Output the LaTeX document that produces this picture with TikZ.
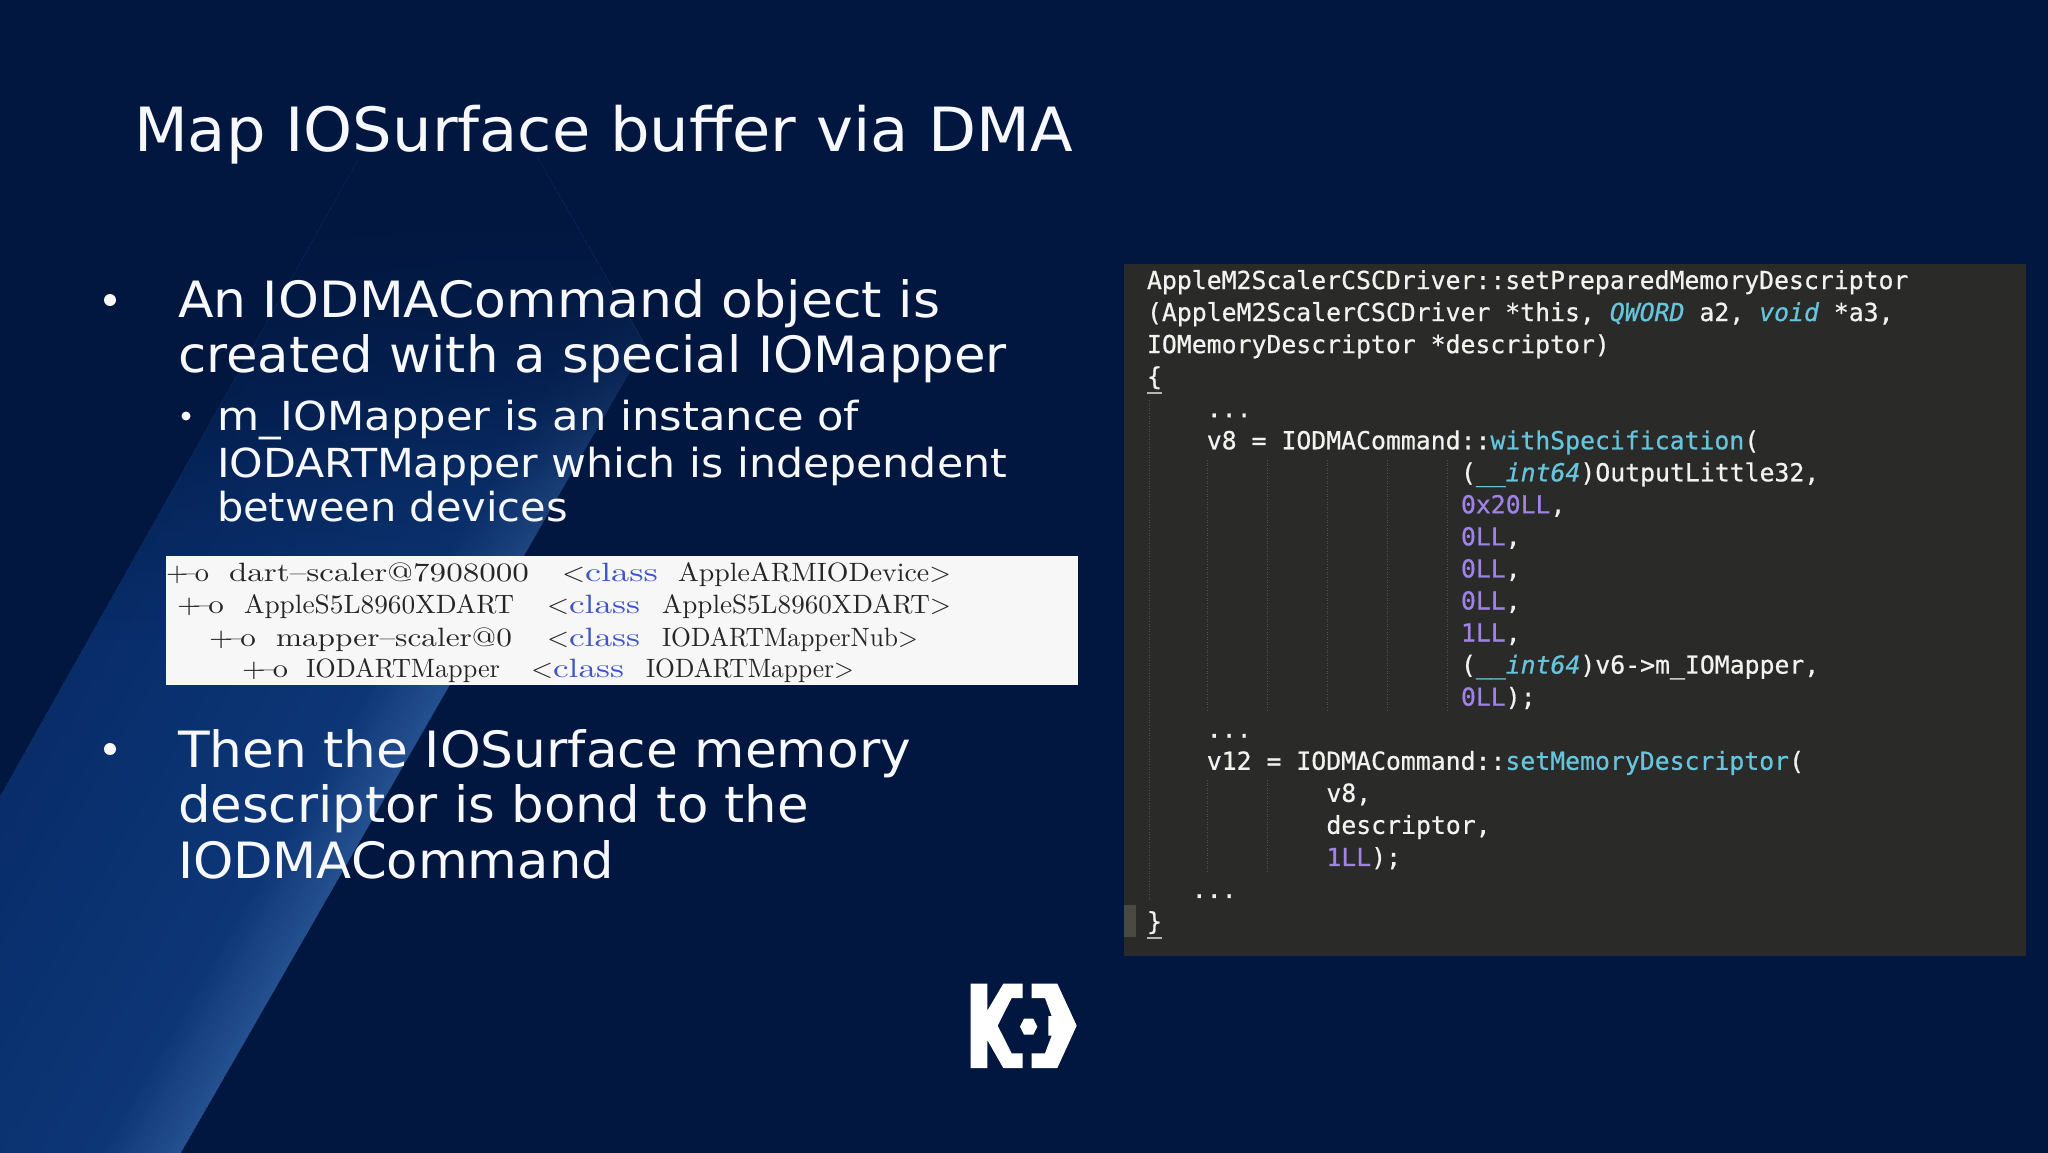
\documentclass[tikz,border=0pt]{standalone}
\usepackage{fontspec}
\usepackage{graphicx}
\usetikzlibrary{fadings}
\newfontfamily\slidefont{DejaVu Sans}
\newfontfamily\codefont[FakeBold=0.7]{DejaVu Sans Mono}
\newfontfamily\tabfont{lmroman10-regular}[Extension=.otf]
\definecolor{bgc}{HTML}{02173F}
\definecolor{bandedge}{HTML}{25508F}
\definecolor{bandmid}{HTML}{0D3677}
\definecolor{bandfar}{HTML}{082C68}
\definecolor{panelc}{HTML}{2A2A28}
\definecolor{codew}{HTML}{F2F2EE}
\definecolor{codec}{HTML}{66C4DC}
\definecolor{codep}{HTML}{9F83E6}
\definecolor{guide}{HTML}{55554F}
\definecolor{slidew}{HTML}{F6F8FB}
\definecolor{tablec}{HTML}{F7F7F8}
\definecolor{tabt}{HTML}{262626}
\definecolor{tabb}{HTML}{3E55CC}
\definecolor{gutter}{HTML}{4A4A40}
\tikzfading[name=fadetop, top color=transparent!0, bottom color=transparent!100]
\newsavebox\fitbox
\newcommand{\fitw}[2]{\sbox\fitbox{#2}\pgfmathsetmacro\fitx{#1/\the\wd\fitbox}\scalebox{\fitx}[1]{\usebox\fitbox}}
\newcount\ncount
\tikzset{
  tl/.style={anchor=base west,inner sep=0pt,outer sep=0pt},
  titletext/.style={tl,text=slidew,font=\slidefont\fontsize{61}{61}\selectfont},
  bodytext/.style={tl,text=slidew,font=\slidefont\fontsize{50}{50}\selectfont},
  subtext/.style={tl,text=slidew,font=\slidefont\fontsize{40}{40}\selectfont},
  tabtext/.style={tl,text=tabt,font=\tabfont\fontsize{26.5}{26.5}\selectfont},
  codetext/.style={tl,text=codew,font=\codefont\fontsize{24.8}{24.8}\selectfont},
  guideline/.style={draw=guide,line width=0.6pt,dotted},
}
% fitted slide text: style, x, baseline, width, text
\newcommand{\ft}[5]{\global\advance\ncount by 1 \node[#1] (n\the\ncount) at (#2,#3) {\fitw{#4}{#5}};}
% code line: column, line, text
\newcommand{\cl}[3]{\global\advance\ncount by 1 \pgfmathsetmacro\cx{1147+14.95*#1}\pgfmathsetmacro\cy{289+32.05*#2}\node[codetext] (n\the\ncount) at (\cx,\cy) {#3};}
\newcommand{\kc}[1]{\textcolor{codec}{#1}}
\newcommand{\ki}[1]{\textcolor{codec}{\itshape #1}}
\newcommand{\kp}[1]{\textcolor{codep}{#1}}
\begin{document}
\begin{tikzpicture}[x=1pt,y=-1pt]
\useasboundingbox (0,0) rectangle (2048,1152);
\fill[bgc] (-6,-6) rectangle (2054,1158);
% diagonal band
\begin{scope}
\clip (-6,808) -- (360,157) -- (537,157) -- (645,345) -- (178,1158) -- (-6,1158) -- cycle;
\foreach \s in {0,...,20}{
  \pgfmathsetmacro\d{\s*4}
  \pgfmathsetmacro\p{100-\s*5}
  \fill[bandedge!\p!bandmid] (178-\d,1158) -- (791-\d,100) -- (-100,100) -- (-100,1158) -- cycle;
}
\foreach \s in {1,...,16}{
  \pgfmathsetmacro\d{80+\s*20}
  \pgfmathsetmacro\p{100-\s*6.25}
  \fill[bandmid!\p!bandfar] (178-\d,1158) -- (791-\d,100) -- (-100,100) -- (-100,1158) -- cycle;
}
\fill[bgc,path fading=fadetop] (-10,150) rectangle (700,640);
\fill[bgc,path fading=fadetop] (-10,150) rectangle (700,480);
\end{scope}
% title and text
\ft{titletext}{134}{151}{939}{Map IOSurface buffer via DMA}
\fill[slidew] (110,300) circle (6);
\ft{bodytext}{178}{317}{762}{An IODMACommand object is}
\ft{bodytext}{178}{372}{829}{created with a special IOMapper}
\fill[slidew] (186,416) circle (4.5);
\ft{subtext}{217}{430}{642}{m\_IOMapper is an instance of}
\ft{subtext}{217}{477}{790}{IODARTMapper which is independent}
\ft{subtext}{217}{521}{351}{between devices}
\fill[slidew] (110,749) circle (6);
\ft{bodytext}{178}{767}{733}{Then the IOSurface memory}
\ft{bodytext}{178}{822}{631}{descriptor is bond to the}
\ft{bodytext}{178}{878}{436}{IODMACommand}
% table
\fill[tablec] (166,556) rectangle (1078,685);
\begin{scope}
\clip (166,556) rectangle (1078,685);
\ft{tabtext}{166}{581}{43}{+\kern-6pt–\kern-1pt o}
\ft{tabtext}{229}{581}{300}{dart–scaler@7908000}
\ft{tabtext}{562}{581}{23}{<}
\ft{tabtext,text=tabb}{585}{581}{73}{class}
\ft{tabtext}{678}{581}{273}{AppleARMIODevice>}
\ft{tabtext}{177}{613}{47}{+\kern-6pt–\kern-1pt o}
\ft{tabtext}{244}{613}{270}{AppleS5L8960XDART}
\ft{tabtext}{547}{613}{22}{<}
\ft{tabtext,text=tabb}{569}{613}{71}{class}
\ft{tabtext}{662}{613}{289}{AppleS5L8960XDART>}
\ft{tabtext}{209}{646}{47}{+\kern-6pt–\kern-1pt o}
\ft{tabtext}{276}{646}{236}{mapper–scaler@0}
\ft{tabtext}{547}{646}{22}{<}
\ft{tabtext,text=tabb}{569}{646}{71}{class}
\ft{tabtext}{662}{646}{256}{IODARTMapperNub>}
\ft{tabtext}{242}{677}{46}{+\kern-6pt–\kern-1pt o}
\ft{tabtext}{306}{677}{194}{IODARTMapper}
\ft{tabtext}{531}{677}{22}{<}
\ft{tabtext,text=tabb}{553}{677}{71}{class}
\ft{tabtext}{646}{677}{208}{IODARTMapper>}
\end{scope}
% code panel
\fill[panelc] (1124,264) rectangle (2026,956);
\fill[gutter] (1124,905) rectangle (1136,937);
\draw[guideline] (1149,400) -- (1149,900);
\foreach \x in {1207,1267,1327,1387,1447}{\draw[guideline] (\x,460) -- (\x,712);}
\foreach \x in {1207,1267}{\draw[guideline] (\x,780) -- (\x,872);}
\draw[codew!70!panelc,line width=1.5pt] (1147,393) -- (1162,393);
\draw[codew!70!panelc,line width=1.5pt] (1147,938) -- (1162,938);
\cl{0}{0}{AppleM2ScalerCSCDriver::setPreparedMemoryDescriptor}
\cl{0}{1}{(AppleM2ScalerCSCDriver *this, \ki{QWORD} a2, \ki{void} *a3,}
\cl{0}{2}{IOMemoryDescriptor *descriptor)}
\cl{0}{3}{\{}
\cl{4}{4}{...}
\cl{4}{5}{v8 = IODMACommand::\kc{withSpecification}(}
\cl{21}{6}{(\ki{\_\_int64})OutputLittle32,}
\cl{21}{7}{\kp{0x20LL},}
\cl{21}{8}{\kp{0LL},}
\cl{21}{9}{\kp{0LL},}
\cl{21}{10}{\kp{0LL},}
\cl{21}{11}{\kp{1LL},}
\cl{21}{12}{(\ki{\_\_int64})v6->m\_IOMapper,}
\cl{21}{13}{\kp{0LL});}
\cl{4}{14}{...}
\cl{4}{15}{v12 = IODMACommand::\kc{setMemoryDescriptor}(}
\cl{12}{16}{v8,}
\cl{12}{17}{descriptor,}
\cl{12}{18}{\kp{1LL});}
\cl{3}{19}{...}
\cl{0}{20}{\}}
% logo
\begin{scope}[shift={(950,970)},scale=0.3333]
\fill[white] (62,41) -- (112,41) -- (112,122) -- (160,41) -- (218,41) -- (218,84) -- (185,84) -- (143,167) -- (185,250) -- (218,250) -- (218,294) -- (160,294) -- (112,210) -- (112,294) -- (62,294) -- cycle;
\fill[white] (245,41) -- (322,41) -- (380,167) -- (322,294) -- (245,294) -- (245,250) -- (285,250) -- (305,197) -- (295,197) -- (295,138) -- (305,138) -- (285,84) -- (245,84) -- cycle;
\fill[white] (210,170) -- (222,146) -- (250,146) -- (262,170) -- (250,194) -- (222,194) -- cycle;
\end{scope}
\end{tikzpicture}
\end{document}
